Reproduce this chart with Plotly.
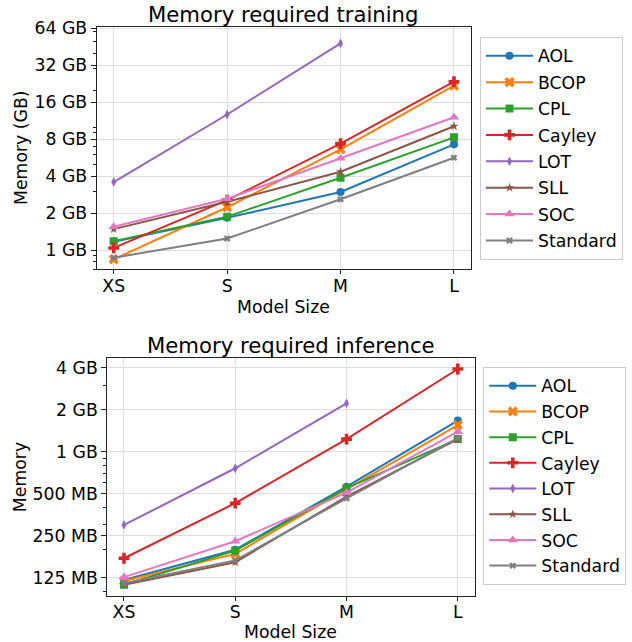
import plotly.graph_objects as go

# ---------------- data ----------------
sizes = ["XS", "S", "M", "L"]
methods = ["AOL", "BCOP", "CPL", "Cayley", "LOT", "SLL", "SOC", "Standard"]

# memory in GB (1 GB = 1e9 bytes)
train_AOL = [1.17, 1.83, 2.97, 7.26]
train_BCOP = [0.84, 2.23, 6.61, 21.8]
train_CPL = [1.18, 1.87, 3.88, 8.28]
train_Cayley = [1.04, 2.55, 7.35, 23.5]
train_LOT = [3.58, 12.7, 48.3, None]
train_SLL = [1.48, 2.47, 4.34, 10.2]
train_SOC = [1.55, 2.62, 5.59, 12.05]
train_Standard = [0.866, 1.24, 2.59, 5.65]

inf_AOL = [0.120, 0.198, 0.561, 1.67]
inf_BCOP = [0.118, 0.185, 0.538, 1.55]
inf_CPL = [0.111, 0.195, 0.547, 1.23]
inf_Cayley = [0.172, 0.427, 1.23, 3.91]
inf_LOT = [0.298, 0.76, 2.22, None]
inf_SLL = [0.111, 0.161, 0.476, 1.23]
inf_SOC = [0.126, 0.228, 0.508, 1.39]
inf_Standard = [0.114, 0.166, 0.463, 1.25]

train_vals = [train_AOL, train_BCOP, train_CPL, train_Cayley, train_LOT, train_SLL, train_SOC, train_Standard]
inf_vals = [inf_AOL, inf_BCOP, inf_CPL, inf_Cayley, inf_LOT, inf_SLL, inf_SOC, inf_Standard]

train_ticks = [1, 2, 4, 8, 16, 32, 64]
train_ticktext = ["1 GB", "2 GB", "4 GB", "8 GB", "16 GB", "32 GB", "64 GB"]
train_minor = [0.7, 0.8, 0.9, 3, 5, 6, 7, 9, 10, 20, 30, 40, 50, 60]

inf_ticks = [0.125, 0.25, 0.5, 1, 2, 4]
inf_ticktext = ["125 MB", "250 MB", "500 MB", "1 GB", "2 GB", "4 GB"]
inf_minor = [0.1, 0.2, 0.3, 0.4, 0.6, 0.7, 0.8, 0.9, 3]

# ---------------- style ----------------
colors = ["#1f77b4", "#ff7f0e", "#2ca02c", "#d62728", "#9467bd", "#8c564b", "#e377c2", "#7f7f7f"]
symbols = ["circle", "x", "square", "cross", "diamond-tall", "star", "triangle-up", "x"]
msizes = [8, 9, 8, 9, 7, 7, 9, 6]

W, H = 632, 642
FONT = "DejaVu Sans"
FS = 17.3

def px_x(p):
    return p / W

def px_y(p):
    return 1 - p / H

top_box = dict(x0=96.7, x1=471.0, y0=26.7, y1=269.3)
bot_box = dict(x0=107.3, x1=474.5, y0=358.3, y1=596.0)

fig = go.Figure()
xs = list(range(len(sizes)))

for i, m in enumerate(methods):
    fig.add_trace(go.Scatter(
        x=xs, y=train_vals[i], name=m, mode="lines+markers",
        line=dict(color=colors[i], width=2),
        marker=dict(symbol=symbols[i], size=msizes[i], color=colors[i], line=dict(width=0)),
        xaxis="x", yaxis="y", legend="legend", legendgroup="t" + m, connectgaps=False,
    ))
for i, m in enumerate(methods):
    fig.add_trace(go.Scatter(
        x=xs, y=inf_vals[i], name=m, mode="lines+markers",
        line=dict(color=colors[i], width=2),
        marker=dict(symbol=symbols[i], size=msizes[i], color=colors[i], line=dict(width=0)),
        xaxis="x2", yaxis="y2", legend="legend2", legendgroup="i" + m, connectgaps=False,
    ))

axis_common = dict(
    showline=True, mirror=True, linecolor="#222222", linewidth=1,
    ticks="outside", tickwidth=1, tickcolor="#222222",
    showgrid=True, gridcolor="#dedede", gridwidth=1, zeroline=False,
    automargin=False,
    tickfont=dict(family=FONT, size=FS, color="black"),
)

fig.update_layout(
    width=W, height=H,
    margin=dict(l=0, r=0, t=0, b=0, autoexpand=False),
    paper_bgcolor="white", plot_bgcolor="white",
    font=dict(family=FONT, size=FS, color="black"),
    xaxis=dict(domain=[px_x(top_box["x0"]), px_x(top_box["x1"])], anchor="y",
               range=[-0.15, 3.15], tickmode="array", tickvals=xs, ticktext=sizes,
               ticklen=4, ticklabelstandoff=-3, **axis_common),
    yaxis=dict(domain=[px_y(top_box["y1"]), px_y(top_box["y0"])], anchor="x", type="log",
               range=[-0.157, 1.819], tickmode="array", tickvals=train_ticks, ticktext=train_ticktext,
               ticklen=5,
               minor=dict(tickmode="array", tickvals=train_minor, ticks="outside", ticklen=3,
                          tickcolor="#222222", showgrid=False),
               **axis_common),
    xaxis2=dict(domain=[px_x(bot_box["x0"]), px_x(bot_box["x1"])], anchor="y2",
                range=[-0.15, 3.15], tickmode="array", tickvals=xs, ticktext=sizes,
                ticklen=4, ticklabelstandoff=-4, **axis_common),
    yaxis2=dict(domain=[px_y(bot_box["y1"]), px_y(bot_box["y0"])], anchor="x2", type="log",
                range=[-1.035, 0.669], tickmode="array", tickvals=inf_ticks, ticktext=inf_ticktext,
                ticklen=5,
                minor=dict(tickmode="array", tickvals=inf_minor, ticks="outside", ticklen=3,
                           tickcolor="#222222", showgrid=False),
                **axis_common),
    legend=dict(x=px_x(480), y=px_y(37), xanchor="left", yanchor="top",
                bordercolor="#cccccc", borderwidth=1, bgcolor="white", tracegroupgap=0.9,
                font=dict(family=FONT, size=FS, color="black"), itemwidth=47),
    legend2=dict(x=px_x(483.3), y=px_y(367), xanchor="left", yanchor="top",
                 bordercolor="#cccccc", borderwidth=1, bgcolor="white", tracegroupgap=0.2,
                 font=dict(family=FONT, size=FS, color="black"), itemwidth=47),
    showlegend=True,
)

ann = []
def add_text(text, x, y, size, xanchor="center", yanchor="middle", angle=0):
    ann.append(dict(text=text, x=x, y=y, xref="paper", yref="paper", showarrow=False,
                    xanchor=xanchor, yanchor=yanchor, textangle=angle,
                    font=dict(family=FONT, size=size, color="black")))

add_text("Memory required training", px_x((top_box["x0"] + top_box["x1"]) / 2), px_y(14), 21.2)
add_text("Memory required inference", px_x((bot_box["x0"] + bot_box["x1"]) / 2), px_y(345), 21.2)
add_text("Model Size", px_x((top_box["x0"] + top_box["x1"]) / 2), px_y(307), FS)
add_text("Model Size", px_x((bot_box["x0"] + bot_box["x1"]) / 2), px_y(632), FS)
add_text("Memory (GB)", px_x(21), px_y((top_box["y0"] + top_box["y1"]) / 2), FS, angle=-90)
add_text("Memory", px_x(20), px_y((bot_box["y0"] + bot_box["y1"]) / 2), FS, angle=-90)
fig.update_layout(annotations=ann)

fig.write_html("out.html")
